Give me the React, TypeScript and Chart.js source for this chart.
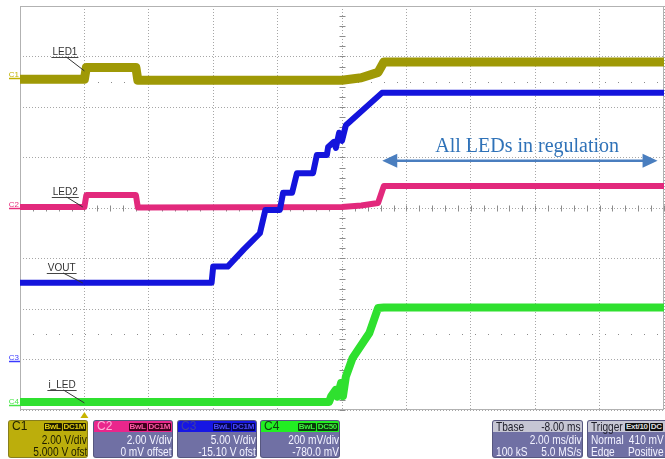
import React, { useEffect, useRef } from "react";
import { Chart, registerables } from "chart.js";

Chart.register(...registerables);

// ---- time axis (ms): 2 ms/div, trigger delay -8 ms, 10 divisions ----
const timeMin = -2;
const timeMax = 18;
const timeStep = 2;

// ---- C1 : LED1 (V) ----
const led1Time = [-2, 0, 0.06, 1.6, 1.66, 8.0, 8.6, 9.12, 9.3, 18];
const led1Volts = [0.1, 0.1, 0.56, 0.56, 0.06, 0.06, 0.16, 0.37, 0.78, 0.78];

// ---- C2 : LED2 (V) ----
const led2Time = [-2, 0, 0.06, 1.6, 1.66, 8.0, 8.6, 9.12, 9.3, 18];
const led2Volts = [0.04, 0.04, 0.51, 0.51, 0.02, 0.04, 0.1, 0.2, 0.87, 0.87];

// ---- C3 : VOUT (V) ----
const voutTime = [-2, 3.95, 4.0, 4.45, 4.95, 5.45, 5.62, 6.07, 6.17, 6.45, 6.6, 7.1, 7.22, 7.53, 7.57, 7.75, 7.81, 7.91, 8.0, 8.12, 9.24, 18];
const voutVolts = [7.7, 7.7, 9.3, 9.3, 11.0, 12.6, 14.9, 14.9, 16.6, 16.6, 18.55, 18.55, 20.35, 20.35, 21.15, 21.65, 21.05, 22.55, 21.75, 23.3, 26.5, 26.5];

// ---- C4 : i_LED sense (V) ----
const iledTime = [-2, 7.6, 7.66, 7.8, 7.86, 7.97, 8.03, 8.12, 8.33, 8.85, 9.12, 9.3, 18];
const iledVolts = [0.012, 0.012, 0.033, 0.059, 0.033, 0.087, 0.035, 0.112, 0.186, 0.285, 0.384, 0.386, 0.386];

// ---- channel settings ----
const channelNames = ["C1", "C2", "C3", "C4"];
const channelVdiv = ["2.00 V/div", "2.00 V/div", "5.00 V/div", "200 mV/div"];
const channelOffsetText = ["5.000 V ofst", "0 mV offset", "-15.10 V ofst", "-780.0 mV"];
const channelCoupling = ["DC1M", "DC1M", "DC1M", "DC50"];
const channelScaleMin = [-13, -8, -4.9, -0.02];
const channelScaleMax = [3, 8, 35.1, 1.58];
const traceColors = ["#9f9906", "#e2297c", "#1414dc", "#2fe02f"];
const markerColors = ["#c2b200", "#e8307e", "#3a3aff", "#46e646"];

// ---- trace labels (anchor given in time / C2 volts) ----
const traceLabels = ["LED1", "LED2", "VOUT", "i_LED"];
const labelAnchorTime = [0, -0.05, -0.05, 0];
const labelAnchorLevel = [5.43, 0.04, -2.97, -7.72];
const labelLeftOffset = [-32, -30, -35, -36];
const labelUnderOffset = [-14, -10, -10, -13];

// ---- annotation ----
const annotationText = "All LEDs in regulation";
const arrowFromTime = 9.25;
const arrowToTime = 17.8;
const arrowLevel = 1.87;
const annotationTextTime = 13.75;
const annotationTextLevel = 2.22;
const sparseLevels = [5, -5];

const scopePlugin = {
  id: "scope",
  beforeDatasetsDraw(chart: any) {
    const { ctx, chartArea: a, scales } = chart;
    const x = scales.x;
    const y = scales.c2;
    ctx.save();
    ctx.lineWidth = 1;
    ctx.strokeStyle = "rgba(110,110,110,0.8)";
    ctx.setLineDash([1, 12]);
    for (const v of sparseLevels) {
      const py = Math.round(y.getPixelForValue(v)) + 0.5;
      ctx.beginPath();
      ctx.moveTo(a.left, py);
      ctx.lineTo(a.right, py);
      ctx.stroke();
    }
    ctx.setLineDash([]);
    ctx.strokeStyle = "#8c8c8c";
    const cx = Math.round(x.getPixelForValue((timeMin + timeMax) / 2)) + 0.5;
    const cy = Math.round(y.getPixelForValue(0)) + 0.5;
    for (let t = timeMin; t <= timeMax + 1e-6; t += timeStep / 5) {
      const px = Math.round(x.getPixelForValue(t)) + 0.5;
      ctx.beginPath();
      ctx.moveTo(px, cy - 3);
      ctx.lineTo(px, cy + 3);
      ctx.stroke();
    }
    for (let v = -8; v <= 8 + 1e-6; v += 0.4) {
      const py = Math.round(y.getPixelForValue(v)) + 0.5;
      ctx.beginPath();
      ctx.moveTo(cx - 3, py);
      ctx.lineTo(cx + 3, py);
      ctx.stroke();
    }
    ctx.strokeStyle = "#b2b2b2";
    ctx.strokeRect(a.left + 0.5, a.top + 0.5, a.right - a.left - 1, a.bottom - a.top - 1);
    ctx.restore();
  },
  afterDatasetsDraw(chart: any) {
    const { ctx, chartArea: a, scales } = chart;
    const x = scales.x;
    const y = scales.c2;
    ctx.save();
    ctx.font = "10px 'Liberation Sans', Arial, sans-serif";
    ctx.textBaseline = "alphabetic";
    for (let i = 0; i < traceLabels.length; i++) {
      const ax = x.getPixelForValue(labelAnchorTime[i]);
      const ay = y.getPixelForValue(labelAnchorLevel[i]);
      const left = ax + labelLeftOffset[i];
      const uy = ay + labelUnderOffset[i];
      const w = ctx.measureText(traceLabels[i]).width;
      ctx.fillStyle = "#333";
      ctx.fillText(traceLabels[i], left, uy - 2);
      ctx.strokeStyle = "#444";
      ctx.lineWidth = 1;
      ctx.beginPath();
      ctx.moveTo(left - 1, Math.round(uy) + 0.5);
      ctx.lineTo(left + w + 1, Math.round(uy) + 0.5);
      ctx.stroke();
      ctx.strokeStyle = "#333";
      ctx.beginPath();
      ctx.moveTo(left + w * 0.55, uy);
      ctx.lineTo(ax, ay);
      ctx.stroke();
    }
    ctx.font = "8px 'Liberation Sans', Arial, sans-serif";
    ctx.textAlign = "right";
    for (let i = 0; i < channelNames.length; i++) {
      const s = scales["c" + (i + 1)];
      const py = Math.round(s.getPixelForValue(0)) + 0.5 - (i === 0 ? 4 : 0);
      ctx.fillStyle = markerColors[i];
      ctx.fillText(channelNames[i], a.left - 1, py - 2);
      ctx.strokeStyle = markerColors[i];
      ctx.lineWidth = 1.5;
      ctx.beginPath();
      ctx.moveTo(a.left - 11, py);
      ctx.lineTo(a.left, py);
      ctx.stroke();
    }
    const tx = x.getPixelForValue(0);
    ctx.fillStyle = "#c8b400";
    ctx.beginPath();
    ctx.moveTo(tx, a.bottom + 2);
    ctx.lineTo(tx - 4, a.bottom + 8);
    ctx.lineTo(tx + 4, a.bottom + 8);
    ctx.closePath();
    ctx.fill();
    const x1 = x.getPixelForValue(arrowFromTime);
    const x2 = x.getPixelForValue(arrowToTime);
    const ay = y.getPixelForValue(arrowLevel);
    const arrowColor = "#4a7ebf";
    ctx.strokeStyle = arrowColor;
    ctx.fillStyle = arrowColor;
    ctx.lineWidth = 2.5;
    ctx.beginPath();
    ctx.moveTo(x1 + 10, ay);
    ctx.lineTo(x2 - 10, ay);
    ctx.stroke();
    ctx.beginPath();
    ctx.moveTo(x1, ay);
    ctx.lineTo(x1 + 15, ay - 7);
    ctx.lineTo(x1 + 15, ay + 7);
    ctx.closePath();
    ctx.fill();
    ctx.beginPath();
    ctx.moveTo(x2, ay);
    ctx.lineTo(x2 - 15, ay - 7);
    ctx.lineTo(x2 - 15, ay + 7);
    ctx.closePath();
    ctx.fill();
    ctx.font = "20px 'Liberation Serif', 'Times New Roman', serif";
    ctx.textAlign = "center";
    ctx.fillStyle = "#2f72b8";
    ctx.fillText(annotationText, x.getPixelForValue(annotationTextTime), y.getPixelForValue(annotationTextLevel));
    ctx.restore();
  },
};

const toPoints = (t: number[], v: number[]) => t.map((tt, i) => ({ x: tt, y: v[i] }));

const boxFont = "'Liberation Sans',Arial,sans-serif";
const bodyBg = "#7070a4";

function Sq({ children, origin = "right", collapse = false }: { children: React.ReactNode; origin?: string; collapse?: boolean }) {
  const inner = (
    <span style={{ display: "inline-block", transform: "scaleX(0.78)", transformOrigin: origin, whiteSpace: "nowrap" }}>
      {children}
    </span>
  );
  if (!collapse) return inner;
  return <span style={{ display: "inline-block", width: 0, overflow: "visible", whiteSpace: "nowrap" }}>{inner}</span>;
}

function Tag({ text, bg, color }: { text: string; bg: string; color: string }) {
  return (
    <span
      style={{
        background: bg,
        color,
        fontSize: 8,
        fontWeight: "bold",
        lineHeight: "8px",
        height: 8,
        padding: "0 1px",
        marginLeft: 1,
        borderRadius: 1,
        display: "inline-block",
        fontFamily: boxFont,
        letterSpacing: -0.3,
      }}
    >
      {text}
    </span>
  );
}

const headBgs = ["#bcae0c", "#ea268c", "#1616e4", "#22ee22"];
const headNameColors = ["#222200", "#ffb0d8", "#4040a0", "#104010"];
const tagBgs = ["#1e1c00", "#40001c", "#050550", "#0a3a0a"];
const tagColors = ["#e0cc10", "#ff5aa8", "#4a4aff", "#40f040"];
const boxLefts = [8, 93, 177, 260];

const boxBase: React.CSSProperties = {
  position: "absolute",
  top: 420,
  height: 38,
  borderRadius: 3,
  overflow: "hidden",
  fontFamily: boxFont,
  border: "1px solid rgba(40,40,60,0.35)",
  boxSizing: "border-box",
};

function ChannelBox({ i }: { i: number }) {
  const isC1 = i === 0;
  const textColor = isC1 ? "#1c1c00" : "#f2f2ff";
  const lineStyle: React.CSSProperties = {
    textAlign: "right",
    fontSize: 13,
    lineHeight: "12px",
    height: 12,
    color: textColor,
    paddingRight: 0,
    whiteSpace: "nowrap",
  };
  return (
    <div style={{ ...boxBase, left: boxLefts[i], width: 80, background: isC1 ? headBgs[0] : bodyBg }}>
      <div
        style={{
          height: 11,
          background: headBgs[i],
          display: "flex",
          alignItems: "center",
          justifyContent: "space-between",
          padding: "0 1px 0 3px",
        }}
      >
        <span style={{ fontSize: 12, lineHeight: "11px", color: headNameColors[i] }}>{channelNames[i]}</span>
        <span style={{ display: "flex" }}>
          <Tag text="BwL" bg={tagBgs[i]} color={tagColors[i]} />
          <Tag text={channelCoupling[i]} bg={tagBgs[i]} color={tagColors[i]} />
        </span>
      </div>
      <div style={{ ...lineStyle, marginTop: 2 }}>
        <Sq>{channelVdiv[i]}</Sq>
      </div>
      <div style={lineStyle}>
        <Sq>{channelOffsetText[i]}</Sq>
      </div>
    </div>
  );
}

const rowStyle: React.CSSProperties = {
  display: "flex",
  justifyContent: "space-between",
  fontSize: 13,
  lineHeight: "12px",
  height: 12,
  color: "#f2f2ff",
  padding: "0 1px 0 3px",
  whiteSpace: "nowrap",
};

function TimeBox() {
  return (
    <div style={{ ...boxBase, left: 492, width: 91, background: bodyBg }}>
      <div style={{ ...rowStyle, background: "#c6c6d4", color: "#1e1e2a", height: 11, lineHeight: "11px" }}>
        <Sq origin="left" collapse>Tbase</Sq>
        <Sq>-8.00 ms</Sq>
      </div>
      <div style={{ ...rowStyle, justifyContent: "flex-end", marginTop: 2 }}>
        <Sq>2.00 ms/div</Sq>
      </div>
      <div style={rowStyle}>
        <Sq origin="left" collapse>100 kS</Sq>
        <Sq>5.0 MS/s</Sq>
      </div>
    </div>
  );
}

function TriggerBox() {
  return (
    <div style={{ ...boxBase, left: 587, width: 90, background: bodyBg }}>
      <div style={{ ...rowStyle, justifyContent: "flex-start", background: "#c6c6d4", color: "#1e1e2a", height: 11, lineHeight: "11px", alignItems: "center" }}>
        <span style={{ display: "inline-block", width: 33, overflow: "visible" }}>
          <Sq origin="left">Trigger</Sq>
        </span>
        <Tag text="Ext/10" bg="#111" color="#ddd" />
        <Tag text="DC" bg="#111" color="#ddd" />
      </div>
      <div style={{ ...rowStyle, marginTop: 2, width: 77, boxSizing: "border-box" }}>
        <Sq origin="left" collapse>Normal</Sq>
        <Sq>410 mV</Sq>
      </div>
      <div style={{ ...rowStyle, width: 77, boxSizing: "border-box" }}>
        <Sq origin="left" collapse>Edge</Sq>
        <Sq>Positive</Sq>
      </div>
    </div>
  );
}

export default function App() {
  const canvasRef = useRef<HTMLCanvasElement>(null);

  useEffect(() => {
    if (!canvasRef.current) return;
    const gridColor = "rgba(150,150,150,0.85)";
    const hiddenAxis = (i: number) => ({
      type: "linear" as const,
      display: false,
      min: channelScaleMin[i],
      max: channelScaleMax[i],
    });
    const chart = new Chart(canvasRef.current, {
      type: "line",
      data: {
        datasets: [
          {
            label: "VOUT",
            data: toPoints(voutTime, voutVolts),
            yAxisID: "c3",
            borderColor: traceColors[2],
            borderWidth: 6,
          },
          {
            label: "i_LED",
            data: toPoints(iledTime, iledVolts),
            yAxisID: "c4",
            borderColor: traceColors[3],
            borderWidth: 8,
          },
          {
            label: "LED1",
            data: toPoints(led1Time, led1Volts),
            yAxisID: "c1",
            borderColor: traceColors[0],
            borderWidth: 9,
          },
          {
            label: "LED2",
            data: toPoints(led2Time, led2Volts),
            yAxisID: "c2",
            borderColor: traceColors[1],
            borderWidth: 6,
          },
        ],
      },
      options: {
        responsive: false,
        animation: false,
        events: [],
        parsing: false,
        elements: {
          point: { radius: 0 },
          line: { tension: 0, borderJoinStyle: "round", borderCapStyle: "butt" },
        },
        layout: { padding: { left: 20, top: 6, right: 1, bottom: 49 } },
        plugins: { legend: { display: false }, tooltip: { enabled: false } },
        scales: {
          x: {
            type: "linear",
            min: timeMin,
            max: timeMax,
            ticks: { display: false, stepSize: timeStep },
            grid: { color: gridColor, drawTicks: false, lineWidth: 1 },
            border: { display: false, dash: [1, 2] },
          },
          c2: {
            type: "linear",
            position: "left",
            min: channelScaleMin[1],
            max: channelScaleMax[1],
            ticks: { display: false, stepSize: 2 },
            grid: { color: gridColor, drawTicks: false, lineWidth: 1 },
            border: { display: false, dash: [1, 2] },
          },
          c1: hiddenAxis(0),
          c3: hiddenAxis(2),
          c4: hiddenAxis(3),
        },
      } as any,
      plugins: [scopePlugin],
    });
    return () => chart.destroy();
  }, []);

  return (
    <div
      style={{
        position: "absolute",
        left: 0,
        top: 0,
        width: 665,
        height: 459,
        background: "#fff",
        overflow: "hidden",
      }}
    >
      <canvas ref={canvasRef} width={665} height={459} style={{ position: "absolute", left: 0, top: 0, width: 665, height: 459 }} />
      {[0, 1, 2, 3].map((i) => (
        <ChannelBox key={i} i={i} />
      ))}
      <TimeBox />
      <TriggerBox />
    </div>
  );
}
